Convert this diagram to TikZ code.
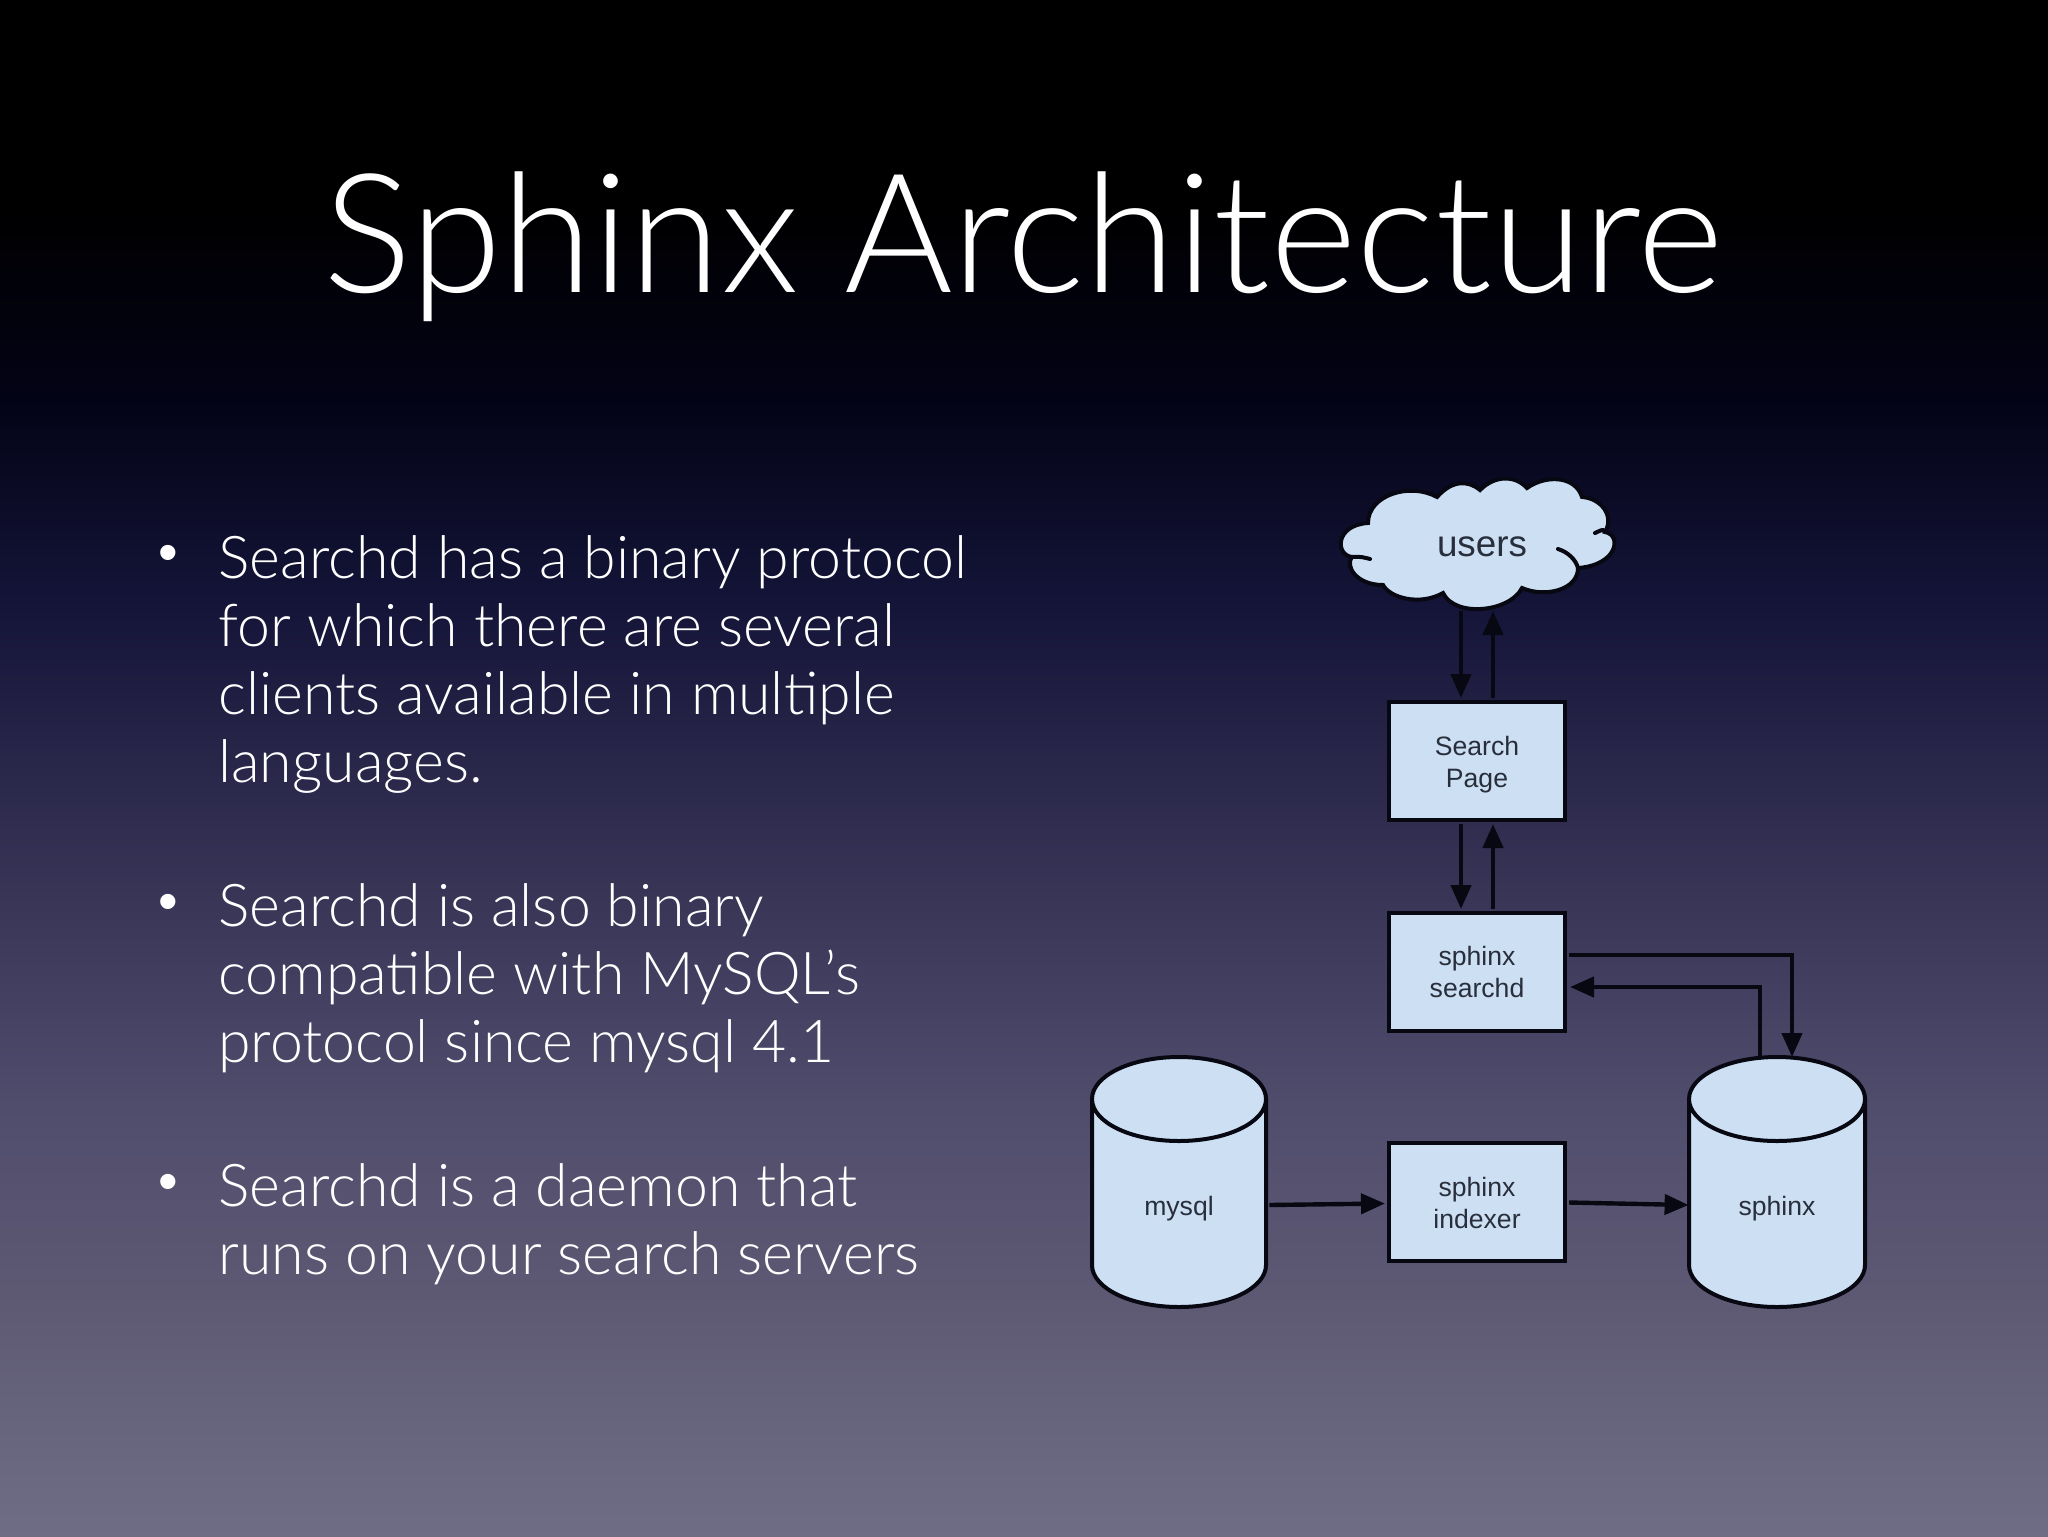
\documentclass[tikz,border=0pt]{standalone}
\usepackage{fontspec}
\setmainfont{Liberation Sans}
\newfontfamily\thinfont{Lato Light}
\usetikzlibrary{arrows.meta,calc}
\definecolor{cA}{RGB}{0,0,0}
\definecolor{cB}{RGB}{3,3,22}
\definecolor{cC}{RGB}{20,20,56}
\definecolor{cD}{RGB}{58,54,88}
\definecolor{cE}{RGB}{80,76,108}
\definecolor{cF}{RGB}{94,90,116}
\definecolor{cG}{RGB}{111,109,133}
\definecolor{diafill}{RGB}{205,224,243}
\definecolor{dialine}{RGB}{8,8,18}
\definecolor{diatext}{RGB}{40,46,60}
\pgfdeclareverticalshading{slidebg}{100bp}{color(0bp)=(cG); color(25bp)=(cG); color(32.5bp)=(cF); color(39bp)=(cE); color(45.5bp)=(cD); color(55.5bp)=(cC); color(62bp)=(cB); color(68.5bp)=(cA); color(100bp)=(cA)}
\newcommand{\lowerline}{\rule{0pt}{13.5pt}}
\newcommand{\lowerlittle}{\rule{0pt}{11.5pt}}
\tikzset{
  x=0.5pt,y=-0.5pt,
  boxnode/.style={draw=dialine,fill=diafill,line width=2pt,minimum width=88pt,minimum height=59pt,inner sep=0pt,align=center,text=diatext,font=\fontsize{13.3}{16}\selectfont},
  shapeline/.style={draw=dialine,fill=diafill,line width=2pt},
  dblabel/.style={inner sep=0pt,minimum width=87pt,text=diatext,font=\fontsize{13.3}{16}\selectfont},
  arr/.style={draw=dialine,line width=2.2pt,-{Triangle[length=12pt,width=10pt]}},
  titletext/.style={text=white,inner sep=0pt,anchor=base,font=\thinfont\fontsize{83}{90}\selectfont},
  bodytext/.style={text=white,inner sep=0pt,anchor=north west,align=left,font=\thinfont\fontsize{29.5}{34}\selectfont},
  bullet/.style={text=white,inner sep=0pt,font=\fontsize{28}{34}\selectfont}
}
\begin{document}
\begin{tikzpicture}
\useasboundingbox (0,0) rectangle (2048,1536);
\shade[shading=slidebg] (0,0) rectangle (2048,1536);
\node[titletext] (title) at (1023,292) {Sphinx Architecture};
\node[bullet] (b1) at (168,558) {\textbullet};
\node[bodytext] (p1) at (218,535) {Searchd has a binary protocol\\for which there are several\\clients available in multiple\\languages.};
\node[bullet] (b2) at (168,907) {\textbullet};
\node[bodytext] (p2) at (218,883) {Searchd is also binary\\compatible with MySQL’s\\protocol since mysql 4.1};
\node[bullet] (b3) at (168,1187) {\textbullet};
\node[bodytext] (p3) at (218,1163) {Searchd is a daemon that\\runs on your search servers};
% cloud
\draw[shapeline] (1437,497)
 .. controls (1452,480) and (1468,480) .. (1480,490)
 .. controls (1495,475) and (1515,475) .. (1527,488)
 .. controls (1545,475) and (1575,475) .. (1582,497)
 .. controls (1600,498) and (1615,515) .. (1605,532)
 .. controls (1622,535) and (1618,565) .. (1578,568)
 .. controls (1578,590) and (1545,598) .. (1522,588)
 .. controls (1510,612) and (1455,618) .. (1443,593)
 .. controls (1420,606) and (1390,598) .. (1383,585)
 .. controls (1355,585) and (1345,565) .. (1352,557)
 .. controls (1335,555) and (1335,525) .. (1368,523)
 .. controls (1368,495) and (1410,482) .. (1437,497) -- cycle;
\draw[draw=dialine,line width=2pt,line cap=round] (1558,549) .. controls (1568,552) and (1576,560) .. (1578,568);
\draw[draw=dialine,line width=2pt,line cap=round] (1352,557) .. controls (1360,556) and (1366,558) .. (1370,559);
\draw[draw=dialine,line width=2pt,line cap=round] (1605,532) .. controls (1603,528) and (1600,531) .. (1595,533);
\node[inner sep=0pt,text=diatext,font=\fontsize{18.4}{20}\selectfont] (users) at (1482,547) {users};
\coordinate (cloudbot) at (1477,611);
% boxes
\node[boxnode] (page) at (1477,761) {\lowerline Search\\Page};
\node[boxnode] (searchd) at (1477,972) {sphinx\\searchd};
\node[boxnode] (indexer) at (1477,1201.5) {\lowerlittle sphinx\\indexer};
% cylinders
\draw[shapeline] (1092,1099) -- (1092,1265) arc[start angle=180,end angle=360,x radius=87,y radius=-42] -- (1266,1099);
\draw[shapeline] (1179,1099) ellipse[x radius=87,y radius=42];
\draw[shapeline] (1689,1099) -- (1689,1265) arc[start angle=180,end angle=360,x radius=88,y radius=-42] -- (1865,1099);
\draw[shapeline] (1777,1099) ellipse[x radius=88,y radius=42];
\node[dblabel,align=center] (mysql) at (1179,1209) {mysql};
\node[dblabel,align=center] (sphinx) at (1777,1209) {sphinx};
\coordinate (sphinxtop) at (1777,1057);
% connectors
\draw[arr] ($(cloudbot)+(-16,0)$) -- ($(page.north)+(-16,-2)$);
\draw[arr] ($(page.north)+(16,-2)$) -- ($(cloudbot)+(16,0)$);
\draw[arr] ($(page.south)+(-16,2)$) -- ($(searchd.north)+(-16,-2)$);
\draw[arr] ($(searchd.north)+(16,-2)$) -- ($(page.south)+(16,2)$);
\draw[arr] ($(searchd.east)+(2,-17)$) -| ($(sphinxtop)+(15,0)$);
\draw[arr] ($(sphinxtop)+(-17,0)$) |- ($(searchd.east)+(3,15)$);
\draw[arr] ($(mysql.east)+(3,-4)$) -- ($(indexer.west)+(-2,2)$);
\draw[arr] ($(indexer.east)+(2,1)$) -- ($(sphinx.west)+(-1,-4)$);
\end{tikzpicture}
\end{document}
